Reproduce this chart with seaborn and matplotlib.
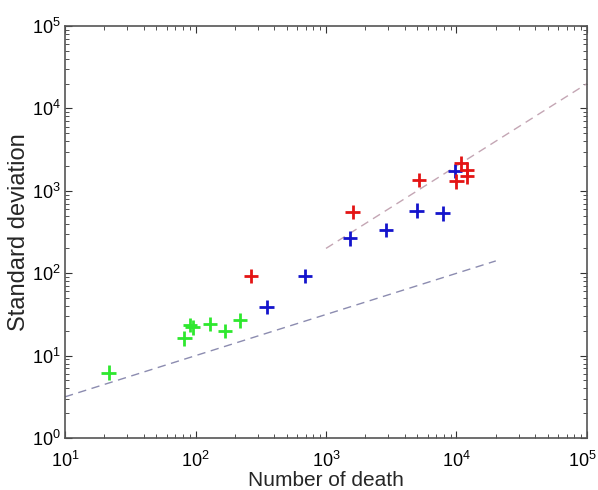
import matplotlib
matplotlib.use("Agg")
import matplotlib.pyplot as plt
import seaborn as sns
import pandas as pd
import numpy as np

# Data
green_x = [21.6, 82, 91, 95, 129, 168, 219]
green_y = [6.2, 16.2, 23.5, 22.0, 24.2, 19.9, 26.8]
blue_x = [351, 690, 1530, 2880, 4950, 7830, 9750]
blue_y = [39, 93, 265, 334, 574, 533, 1750]
red_x = [266, 1600, 5160, 10000, 10800, 12000, 12000]
red_y = [92, 550, 1350, 1300, 2150, 1800, 1500]

upper_line_x = [1000, 100000]
upper_line_y = [200, 20000]
lower_line_x = [10, 20000]
lower_line_y = [3.16, 141]

sns.set_style("ticks")
plt.rcParams['font.family'] = ['Liberation Sans', 'DejaVu Sans']
plt.rcParams['mathtext.fontset'] = 'custom'
plt.rcParams['mathtext.rm'] = 'Liberation Sans'
plt.rcParams['mathtext.it'] = 'Liberation Sans:italic'
plt.rcParams['mathtext.bf'] = 'Liberation Sans:bold'
plt.rcParams['xtick.direction'] = 'in'
plt.rcParams['ytick.direction'] = 'in'

df = pd.DataFrame({
    "x": green_x + blue_x + red_x,
    "y": green_y + blue_y + red_y,
    "group": ["green"] * len(green_x) + ["blue"] * len(blue_x) + ["red"] * len(red_x),
})
palette = {"green": "#2ee82e", "blue": "#1414cc", "red": "#e41414"}

fig = plt.figure(figsize=(5.98, 4.90), dpi=100)
ax = fig.add_axes([0.1087, 0.1061, 0.8729, 0.8408])

line_up = pd.DataFrame({"x": upper_line_x, "y": upper_line_y})
line_lo = pd.DataFrame({"x": lower_line_x, "y": lower_line_y})
sns.lineplot(data=line_up, x="x", y="y", ax=ax, color="#c4a6b4", linewidth=1.0,
             linestyle=(0, (6, 4)))
sns.lineplot(data=line_lo, x="x", y="y", ax=ax, color="#8c8cb0", linewidth=1.0,
             linestyle=(0, (6, 4)))

sns.scatterplot(data=df, x="x", y="y", hue="group", palette=palette, marker="+",
                s=110, linewidth=2.0, ax=ax, legend=False, zorder=3)

ax.set_xscale("log")
ax.set_yscale("log")
ax.set_xlim(10, 1e5)
ax.set_ylim(1, 1e5)
ax.set_xlabel("Number of death", fontsize=15, labelpad=0)
ax.set_ylabel("Standard deviation", fontsize=17)
ax.yaxis.set_label_coords(-0.068, 0.5)
ax.tick_params(which="both", top=True, right=True, labelsize=13, colors="#333333",
               labelcolor="black")
ax.tick_params(axis="x", which="major", pad=9)
ax.tick_params(axis="y", which="major", pad=3)
ax.tick_params(which="major", length=5)
ax.tick_params(which="minor", length=3)
ax.xaxis.set_major_locator(matplotlib.ticker.LogLocator(base=10, numticks=10))
ax.yaxis.set_major_locator(matplotlib.ticker.LogLocator(base=10, numticks=10))
ax.xaxis.set_minor_locator(matplotlib.ticker.LogLocator(base=10, subs=np.arange(2, 10), numticks=20))
ax.yaxis.set_minor_locator(matplotlib.ticker.LogLocator(base=10, subs=np.arange(2, 10), numticks=20))
ax.yaxis.set_minor_formatter(matplotlib.ticker.NullFormatter())
ax.xaxis.set_minor_formatter(matplotlib.ticker.NullFormatter())


def xfmt(v, pos):
    e = int(round(np.log10(v)))
    if e == 5:
        return ""
    return r"$\mathregular{10^{%d}}$" % e


ax.xaxis.set_major_formatter(matplotlib.ticker.FuncFormatter(xfmt))
# last x tick label, nudged slightly left so it stays inside the figure (as in the reference)
ax.annotate(r"$\mathregular{10^{5}}$", xy=(1, 0), xycoords="axes fraction",
            xytext=(-3.5, -9), textcoords="offset points", ha="center", va="top",
            fontsize=13, color="black", annotation_clip=False)

for s in ax.spines.values():
    s.set_color("#555555")
    s.set_linewidth(1.2)

fig.savefig("out.png", dpi=100)
